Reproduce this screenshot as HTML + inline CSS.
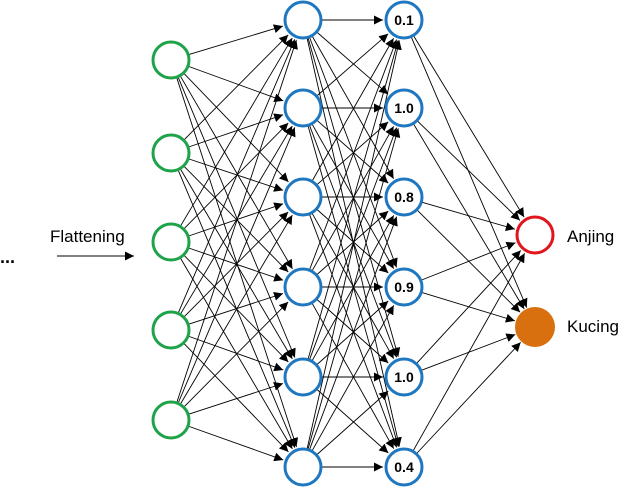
<!DOCTYPE html>
<html><head><meta charset="utf-8"><style>
html,body{margin:0;padding:0;background:#fff;}
svg{display:block;}
text{font-family:"Liberation Sans",Arial,sans-serif;}
</style></head><body>
<svg id="s" width="625" height="492" viewBox="0 0 625 492" xmlns="http://www.w3.org/2000/svg">
<defs><marker id="a" viewBox="0 0 10 10" refX="10" refY="5" markerWidth="9" markerHeight="9" orient="auto" markerUnits="userSpaceOnUse"><path d="M0,0 L10,5 L0,10 z" fill="#000"/></marker>
<marker id="b" viewBox="0 0 10 10" refX="10" refY="5" markerWidth="9" markerHeight="9" orient="auto" markerUnits="userSpaceOnUse"><path d="M0,0 L10,5 L0,10 z" fill="#000"/></marker></defs>
<g id="lines"></g>
<g id="nodes"></g>
<text x="50" y="242" font-size="17" fill="#000">Flattening</text>
<line x1="57" y1="256" x2="134" y2="256" stroke="#000" stroke-width="1" marker-end="url(#b)"/>
<text x="0" y="263" font-size="18" font-weight="bold" fill="#000">...</text>
<text x="567" y="242" font-size="17" fill="#000">Anjing</text>
<text x="567" y="332" font-size="17" fill="#000">Kucing</text>
</svg>
<script>
var ns="http://www.w3.org/2000/svg";
var L0=[60,153,242,330,420].map(y=>[171,y]);
var L1=[20,108,197,287,377,467].map(y=>[303,y]);
var L2=[20,108,197,287,377,467].map(y=>[404,y]);
var L3=[[535,235],[535,327]];
var labels=["0.1","1.0","0.8","0.9","1.0","0.4"];
var g=document.getElementById("lines"),n=document.getElementById("nodes");
function conn(A,B){A.forEach(p=>B.forEach(q=>{var dx=q[0]-p[0],dy=q[1]-p[1],d=Math.hypot(dx,dy),r=21;
var l=document.createElementNS(ns,"line");
l.setAttribute("x1",p[0]+dx/d*19);l.setAttribute("y1",p[1]+dy/d*19);
l.setAttribute("x2",q[0]-dx/d*r);l.setAttribute("y2",q[1]-dy/d*r);
l.setAttribute("stroke","#000");l.setAttribute("stroke-width","0.9");l.setAttribute("marker-end","url(#a)");g.appendChild(l);}));}
conn(L0,L1);conn(L1,L2);conn(L2,L3);
function circ(p,stroke,fill){var c=document.createElementNS(ns,"circle");c.setAttribute("cx",p[0]);c.setAttribute("cy",p[1]);c.setAttribute("r",18);c.setAttribute("fill",fill);c.setAttribute("stroke",stroke);c.setAttribute("stroke-width","3");n.appendChild(c);}
L0.forEach(p=>circ(p,"#1fa34a","#fff"));
L1.forEach(p=>circ(p,"#1f77c0","#fff"));
L2.forEach((p,i)=>{circ(p,"#1f77c0","#fff");var t=document.createElementNS(ns,"text");t.setAttribute("x",p[0]);t.setAttribute("y",p[1]+5);t.setAttribute("text-anchor","middle");t.setAttribute("font-size","14");t.setAttribute("font-weight","bold");t.textContent=labels[i];n.appendChild(t);});
circ(L3[0],"#e0161c","#fff");
var c=document.createElementNS(ns,"circle");c.setAttribute("cx",535);c.setAttribute("cy",327);c.setAttribute("r",20);c.setAttribute("fill","#d9700f");n.appendChild(c);
</script>
</body></html>
